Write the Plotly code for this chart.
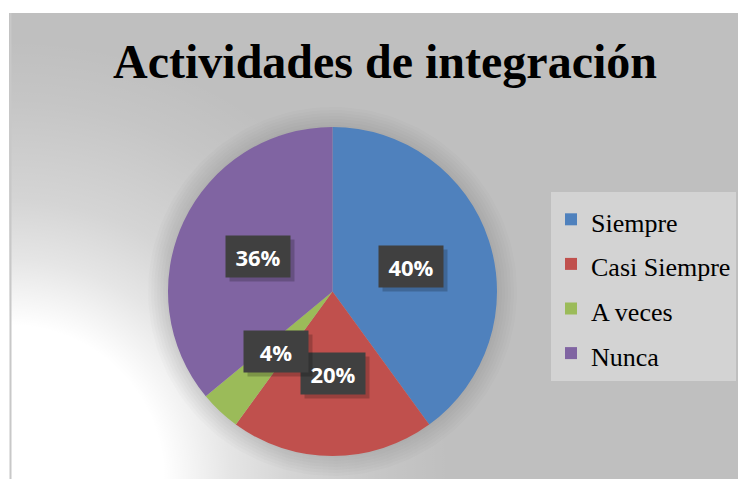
import numpy as np
import plotly.graph_objects as go

# ---- data ----
categories = ["Siempre", "Casi Siempre", "A veces", "Nunca"]
values = [40, 20, 4, 36]
slice_colors = ["#4F81BD", "#C0504D", "#9BBB59", "#8064A2"]
title_text = "Actividades de integración"

# ---- layout constants (reference-image pixels) ----
OFF = 8                      # browser body margin
W, H = 746 - OFF, 479 - OFF  # figure size
CHART_LEFT, CHART_TOP = 9, 13
PIE_CX, PIE_CY, PIE_R = 332.5, 291.5, 164.5   # centre measured from top
GRAY = "#BFBFBF"

def X(x_ref):
    return x_ref - OFF

def Y(y_ref_from_top):
    return H - (y_ref_from_top - OFF)

fig = go.Figure()

# radial white glow from lower-left corner (gradient fill)
GR = 440
gx0, gy0 = X(10), Y(479)
fig.add_trace(go.Scatter(
    x=[gx0 - GR, gx0 + GR, gx0 + GR, gx0 - GR, gx0 - GR],
    y=[gy0 - GR, gy0 - GR, gy0 + GR, gy0 + GR, gy0 - GR],
    mode="lines", line=dict(width=0), fill="toself",
    fillgradient=dict(type="radial", colorscale=[
        [0.0, "rgba(255,255,255,1)"],
        [0.35, "rgba(255,255,255,1)"],
        [0.5, "rgba(255,255,255,0.6)"],
        [0.634, "rgba(255,255,255,0.34)"],
        [0.86, "rgba(255,255,255,0.10)"],
        [1.0, "rgba(255,255,255,0)"],
    ]),
    hoverinfo="skip", showlegend=False,
))

# soft shadow around the pie
ang = np.linspace(0, 2 * np.pi, 181)
for k in range(7):
    r = PIE_R + 2 + k * 3
    fig.add_trace(go.Scatter(
        x=X(PIE_CX) + r * np.cos(ang), y=Y(PIE_CY) + r * np.sin(ang),
        mode="lines", line=dict(width=0), fill="toself",
        fillcolor="rgba(0,0,0,0.014)", hoverinfo="skip", showlegend=False,
    ))

legend_labels = ['<span style="font-size:26px">%s</span>' % c for c in categories]

pcx, pcy = X(PIE_CX), H - Y(PIE_CY)  # pie centre in figure px (y from top)
fig.add_trace(go.Pie(
    labels=legend_labels, values=values, sort=False, direction="clockwise",
    rotation=0, textinfo="none", hoverinfo="label+percent",
    marker=dict(colors=slice_colors, line=dict(width=0)),
    domain=dict(x=[(pcx - PIE_R) / W, (pcx + PIE_R) / W],
                y=[(H - pcy - PIE_R) / H, (H - pcy + PIE_R) / H]),
    showlegend=True,
))

annotations = []
# data labels at half radius, mid-angle of each slice
total = float(sum(values))
cum = 0.0
for v in values:
    mid = (cum + v / 2.0) / total * 2 * np.pi
    cum += v
    lx = X(PIE_CX) + 0.5 * PIE_R * np.sin(mid)
    ly = Y(PIE_CY) + 0.5 * PIE_R * np.cos(mid)
    txt = "%d%%" % round(v / total * 100)
    annotations.append(dict(x=lx + 4, y=ly - 4, xref="x", yref="y", text=" ",
                            showarrow=False, width=64, height=41, borderpad=0,
                            bgcolor="rgba(0,0,0,0.2)"))
    annotations.append(dict(x=lx, y=ly, xref="x", yref="y", text="<b>%s</b>" % txt,
                            showarrow=False, width=64, height=41, borderpad=0,
                            bgcolor="#404040",
                            font=dict(family="Open Sans", size=22, color="white")))

annotations.append(dict(x=X(385), y=Y(61), xref="x", yref="y", text="<b>%s</b>" % title_text,
                        showarrow=False, xanchor="center", yanchor="middle",
                        font=dict(family="Liberation Serif", size=48, color="black")))

fig.update_layout(
    width=W, height=H, autosize=False,
    margin=dict(l=0, r=0, t=0, b=0),
    paper_bgcolor="white", plot_bgcolor="white",
    xaxis=dict(range=[0, W], visible=False, fixedrange=True),
    yaxis=dict(range=[0, H], visible=False, fixedrange=True),
    shapes=[
        dict(type="rect", xref="x", yref="y", x0=X(CHART_LEFT), x1=W, y0=0, y1=Y(CHART_TOP),
             fillcolor=GRAY, line=dict(width=0), layer="below"),
        dict(type="line", xref="x", yref="y", x0=X(10.5), x1=X(10.5), y0=0, y1=Y(CHART_TOP),
             line=dict(color="#C8C8C8", width=2), layer="above"),
    ],
    annotations=annotations,
    legend=dict(x=X(551) / W, y=Y(192) / H, xanchor="left", yanchor="top",
                bgcolor="#D3D3D3", borderwidth=0,
                font=dict(family="Liberation Serif", size=32, color="black")),
    showlegend=True,
)

fig.write_html("out.html")
